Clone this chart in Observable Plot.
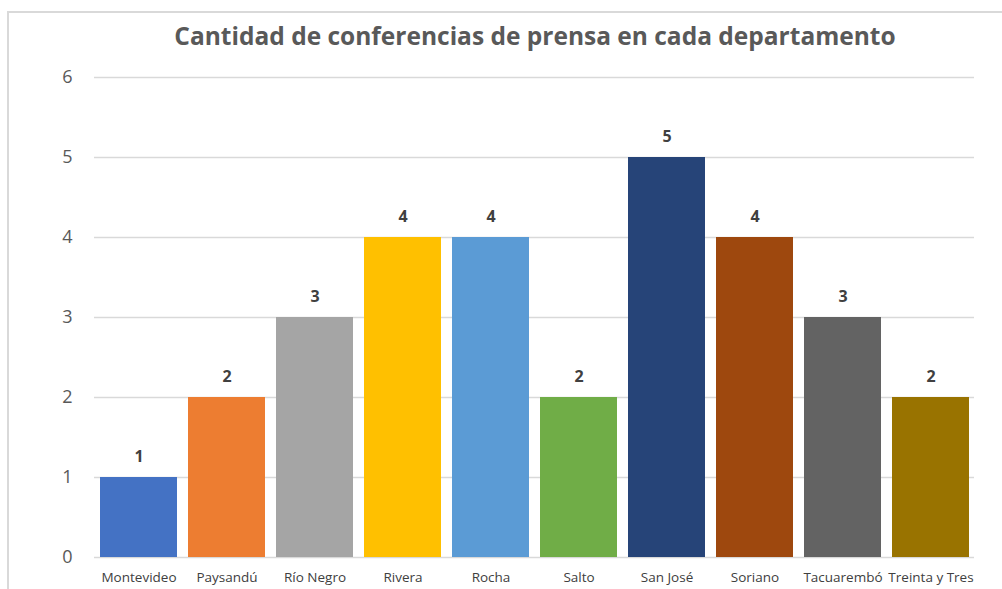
<!DOCTYPE html>
<html>
<head>
<meta charset="utf-8">
<script src="https://cdn.jsdelivr.net/npm/d3@7"></script>
<script src="https://cdn.jsdelivr.net/npm/@observablehq/plot@0.6"></script>
<style>
  html, body { margin: 0; padding: 0; background: #fff; }
  #wrap { position: relative; width: 1002px; height: 589px; overflow: hidden; }
  #frame { position: absolute; left: 7px; top: 11px; width: 1100px; height: 700px;
           border-top: 2px solid #d9d9d9; border-left: 2px solid #d9d9d9; }
  #title { position: relative; height: 60px; line-height: 71px; text-align: center;
           padding-left: 68px; font-family: "Open Sans", sans-serif; font-weight: bold;
           font-size: 24.5px; color: #595959; white-space: nowrap; }
  #chart { position: relative; }
</style>
</head>
<body>
<div id="wrap">
  <div id="frame"></div>
  <div id="title">Cantidad de conferencias de prensa en cada departamento</div>
  <div id="chart"></div>
</div>
<script>
const departamentos = ["Montevideo", "Paysandú", "Río Negro", "Rivera", "Rocha", "Salto", "San José", "Soriano", "Tacuarembó", "Treinta y Tres"];
const conferencias = [1, 2, 3, 4, 4, 2, 5, 4, 3, 2];
const colores = ["#4472C4", "#ED7D31", "#A5A5A5", "#FFC000", "#5B9BD5", "#70AD47", "#264478", "#9E480E", "#636363", "#997300"];
const yTicks = [0, 1, 2, 3, 4, 5, 6];

const data = departamentos.map((d, i) => ({dep: d, n: conferencias[i]}));

const chart = Plot.plot({
  width: 1002,
  height: 529,
  marginTop: 17,
  marginBottom: 32,
  marginLeft: 94,
  marginRight: 28,
  style: {fontFamily: "Open Sans, sans-serif", background: "transparent"},
  x: {domain: departamentos, paddingInner: 0.125, paddingOuter: 0.06, label: null},
  y: {domain: [0, 6], label: null},
  color: {domain: departamentos, range: colores},
  marks: [
    Plot.ruleY(yTicks, {stroke: "#d9d9d9", strokeWidth: 1.5}),
    Plot.barY(data, {x: "dep", y: "n", fill: "dep"}),
    Plot.text(data, {x: "dep", y: "n", text: d => String(d.n), lineAnchor: "bottom", dy: -16,
      fontSize: 16, fontWeight: "bold", fill: "#404040"}),
    Plot.axisY({ticks: yTicks, tickFormat: "d", tickSize: 0, tickPadding: 22, fontSize: 18, color: "#595959", label: null}),
    Plot.axisX({tickSize: 0, tickPadding: 15, fontSize: 13.5, color: "#404040", label: null})
  ]
});
document.getElementById("chart").appendChild(chart);
</script>
</body>
</html>
